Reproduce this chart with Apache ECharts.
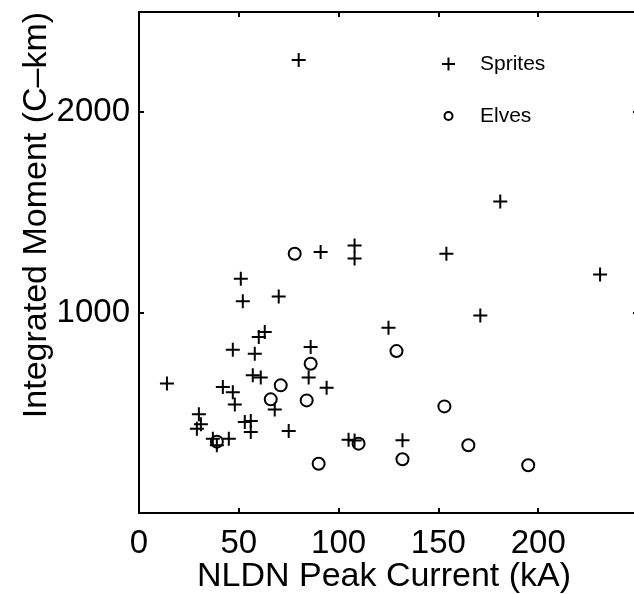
<!DOCTYPE html>
<html>
<head>
<meta charset="utf-8">
<script src="https://cdn.jsdelivr.net/npm/echarts@6/dist/echarts.min.js"></script>
<style>
  html, body { margin: 0; padding: 0; background: #fff; }
  #chart { width: 634px; height: 594px; }
</style>
</head>
<body>
<div id="chart"></div>
<script>
// ---- data ----
const spritesX = [80, 181, 91, 108, 108, 154, 231, 171, 51, 52, 70, 125, 63, 60, 47, 58, 86, 57, 61, 14, 85, 94, 42, 47, 48, 68, 30, 31, 29, 53, 56, 56, 75, 37, 45, 39, 105, 108, 132];
const spritesY = [2260, 1554, 1302, 1335, 1270, 1294, 1190, 985, 1169, 1057, 1080, 925, 903, 878, 815, 795, 828, 687, 676, 646, 676, 625, 629, 602, 542, 516, 493, 443, 421, 454, 459, 404, 409, 371, 371, 338, 366, 362, 363];
const elvesX = [78, 129, 86, 71, 66, 84, 39, 90, 110, 153, 132, 165, 195];
const elvesY = [1294, 808, 745, 637, 567, 562, 356, 246, 346, 532, 268, 338, 238];
const xTickLabels = [0, 50, 100, 150, 200];
const yTickLabels = [1000, 2000];
const seriesNames = ['Sprites', 'Elves'];
const xTitle = 'NLDN Peak Current (kA)';
const yTitle = 'Integrated Moment (C\u2013km)';

const FONT = '"Liberation Sans", Arial, Helvetica, sans-serif';
const plusSymbol = 'path://M0,5L10,5M5,0L5,10';
const plusIcon = 'path://M0,0M33,22M0,11L13,11M6.5,4.5L6.5,17.5';
const circleIcon = 'path://M0,0M33,22M2.5,11A4,4 0 1,1 10.5,11A4,4 0 1,1 2.5,11Z';

const zip = (xs, ys) => xs.map((x, i) => [x, ys[i]]);

const chart = echarts.init(document.getElementById('chart'), null, { renderer: 'canvas' });

const axisCommon = {
  type: 'value',
  splitLine: { show: false },
  axisLine: { show: true, onZero: false, lineStyle: { color: '#000', width: 2 } },
  axisTick: { show: true, inside: true, length: 5, lineStyle: { color: '#000', width: 2 } },
};

chart.setOption({
  animation: false,
  backgroundColor: '#fff',
  grid: {
    left: 139, top: 12, width: 499, height: 501,
    show: true, borderColor: '#000', borderWidth: 2, backgroundColor: 'transparent',
    containLabel: false, outerBoundsMode: 'none'
  },
  xAxis: [
    Object.assign({}, axisCommon, {
      position: 'bottom', min: 0, max: 250, interval: 50,
      axisLabel: {
        show: true, margin: 14, color: '#000', fontSize: 33, fontFamily: FONT,
        formatter: v => xTickLabels.indexOf(v) >= 0 ? String(v) : ''
      }
    }),
    Object.assign({}, axisCommon, {
      position: 'top', min: 0, max: 250, interval: 50, axisLabel: { show: false }
    })
  ],
  yAxis: [
    Object.assign({}, axisCommon, {
      position: 'left', min: 0, max: 2500, interval: 1000,
      axisLabel: {
        show: true, margin: 9, color: '#000', fontSize: 33, fontFamily: FONT,
        formatter: v => yTickLabels.indexOf(v) >= 0 ? String(v) : ''
      }
    }),
    Object.assign({}, axisCommon, {
      position: 'right', min: 0, max: 2500, interval: 1000, axisLabel: { show: false }
    })
  ],
  legend: {
    orient: 'vertical', left: 441, top: 52, padding: 0,
    itemWidth: 33, itemHeight: 22, itemGap: 28,
    textStyle: { color: '#000', fontSize: 21, fontFamily: FONT, lineHeight: 22 },
    data: [
      { name: seriesNames[0], icon: plusIcon },
      { name: seriesNames[1], icon: circleIcon }
    ],
    selectedMode: false
  },
  series: [
    {
      name: seriesNames[0], type: 'scatter', data: zip(spritesX, spritesY),
      symbol: plusSymbol, symbolSize: 14,
      itemStyle: { color: 'rgba(0,0,0,0)', borderColor: '#000', borderWidth: 2, opacity: 1 }
    },
    {
      name: seriesNames[1], type: 'scatter', data: zip(elvesX, elvesY),
      symbol: 'circle', symbolSize: 12,
      itemStyle: { color: 'rgba(0,0,0,0)', borderColor: '#000', borderWidth: 2, opacity: 1 }
    }
  ],
  graphic: [
    {
      type: 'text', x: 384, y: 577,
      style: { text: xTitle, font: '34px ' + FONT, fill: '#000', align: 'center', verticalAlign: 'middle' }
    },
    {
      type: 'text', x: 37, y: 215, rotation: Math.PI / 2,
      style: { text: yTitle, font: '34px ' + FONT, fill: '#000', align: 'center', verticalAlign: 'middle' }
    }
  ]
});
</script>
</body>
</html>
